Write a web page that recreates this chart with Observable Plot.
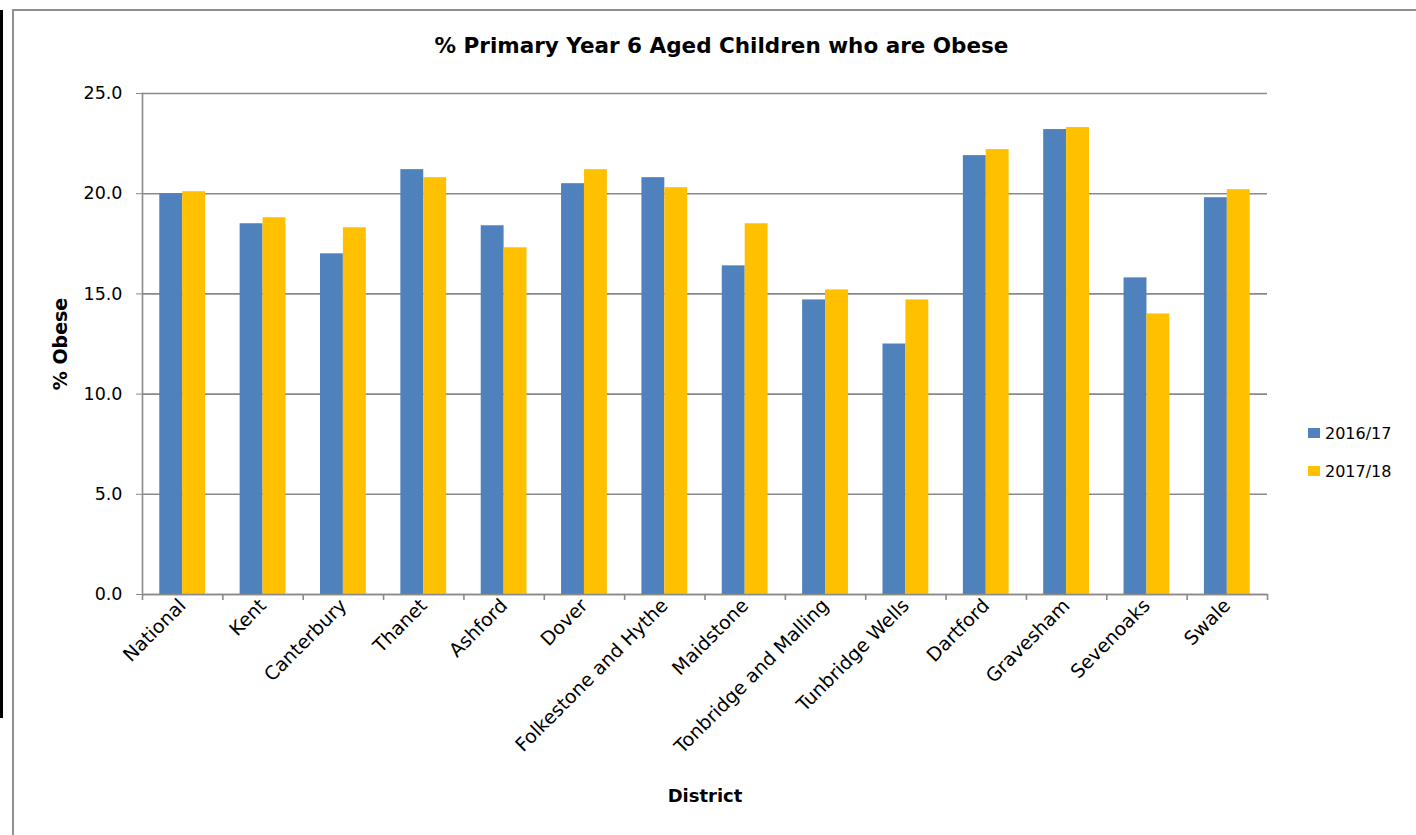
<!DOCTYPE html>
<html><head><meta charset="utf-8">
<script src="https://cdn.jsdelivr.net/npm/d3@7"></script>
<script src="https://cdn.jsdelivr.net/npm/@observablehq/plot@0.6"></script>
<style>
body{margin:0;background:#fff;}
#wrap{position:relative;width:1416px;height:835px;overflow:hidden;font-family:"DejaVu Sans",sans-serif;color:#000;}
#edge{position:absolute;left:0;top:10px;width:3px;height:708px;background:#000;}
#box{position:absolute;left:12px;top:9px;width:1420px;height:840px;border-left:2px solid #8f8f8f;border-top:2px solid #8f8f8f;}
#title{position:absolute;top:33px;left:0;width:1443px;text-align:center;font-weight:bold;font-size:21.5px;line-height:25px;}
#chart{position:absolute;left:0;top:0;}
#legend{position:absolute;left:1308px;top:414px;font-size:16px;}
.item{display:flex;align-items:center;height:38px;}
.sw{width:12px;height:10px;margin-right:5px;}
</style></head>
<body>
<div id="wrap">
  <div id="box"></div>
  <div id="edge"></div>
  <div id="chart"></div>
  <div id="title">% Primary Year 6 Aged Children who are Obese</div>
  <div id="legend"></div>
</div>
<script>
const districts = ["National","Kent","Canterbury","Thanet","Ashford","Dover","Folkestone and Hythe","Maidstone","Tonbridge and Malling","Tunbridge Wells","Dartford","Gravesham","Sevenoaks","Swale"];
const v2016 = [20.0,18.5,17.0,21.2,18.4,20.5,20.8,16.4,14.7,12.5,21.9,23.2,15.8,19.8];
const v2017 = [20.1,18.8,18.3,20.8,17.3,21.2,20.3,18.5,15.2,14.7,22.2,23.3,14.0,20.2];
const years = ["2016/17","2017/18"];
const colors = ["#4F81BD","#FFC000"];
const yTicks = [0,5,10,15,20,25];

const W = 1416, H = 835, mL = 142, mR = 149, mT = 93, mB = 241;
const padIn = 0.43;
const step = (W - mL - mR) / districts.length;
const half = step * (1 - padIn) / 2;

const rows1 = districts.map((d,i)=>({district:d, value:v2016[i]}));
const rows2 = districts.map((d,i)=>({district:d, value:v2017[i]}));
const font = '"DejaVu Sans",sans-serif';
const grey = "#8a8a8a";

const chart = Plot.plot({
  width: W, height: H,
  marginLeft: mL, marginRight: mR, marginTop: mT, marginBottom: mB,
  style: {fontFamily: font, fontSize: "17px", color: "#000", background: "transparent"},
  x: {type: "band", domain: districts, paddingInner: padIn, paddingOuter: padIn/2, align: 0.5, round: false},
  y: {domain: [0, 25]},
  marks: [
    Plot.gridY(yTicks, {stroke: grey, strokeOpacity: 1, strokeWidth: 1.6}),
    Plot.barY(rows1, {x: "district", y: "value", fill: colors[0], insetRight: half}),
    Plot.barY(rows2, {x: "district", y: "value", fill: colors[1], insetLeft: half}),
    Plot.ruleY([0], {stroke: grey, strokeWidth: 1.6}),
    Plot.frame({anchor: "left", stroke: grey, strokeWidth: 1.6}),
    Plot.ruleX(districts, {x: d => d, y1: 0, y2: -0.3, dx: -step/2, stroke: grey, strokeWidth: 1.6}),
    Plot.ruleX(districts.slice(-1), {x: d => d, y1: 0, y2: -0.3, dx: step/2, stroke: grey, strokeWidth: 1.6}),
    Plot.axisY({ticks: yTicks, tickFormat: d3.format(".1f"), tickSize: 6, tickPadding: 14, fontSize: 17.5, stroke: grey, label: null}),
    Plot.axisX({tickSize: 0, tickRotate: -45, tickPadding: 8, fontSize: 19, label: null}),
    Plot.text(["District"], {frameAnchor: "bottom", lineAnchor: "middle", dy: 202, fontWeight: "bold", fontSize: 18, fill: "#000"}),
    Plot.text(["% Obese"], {frameAnchor: "left", textAnchor: "middle", lineAnchor: "middle", dx: -82, rotate: -90, fontWeight: "bold", fontSize: 19, fill: "#000"})
  ]
});
document.getElementById("chart").appendChild(chart);

const legend = document.getElementById("legend");
years.forEach((y,i)=>{
  const it = document.createElement("div"); it.className = "item";
  const sw = document.createElement("span"); sw.className = "sw"; sw.style.background = colors[i];
  const t = document.createElement("span"); t.textContent = y;
  it.appendChild(sw); it.appendChild(t); legend.appendChild(it);
});
</script>
</body></html>
